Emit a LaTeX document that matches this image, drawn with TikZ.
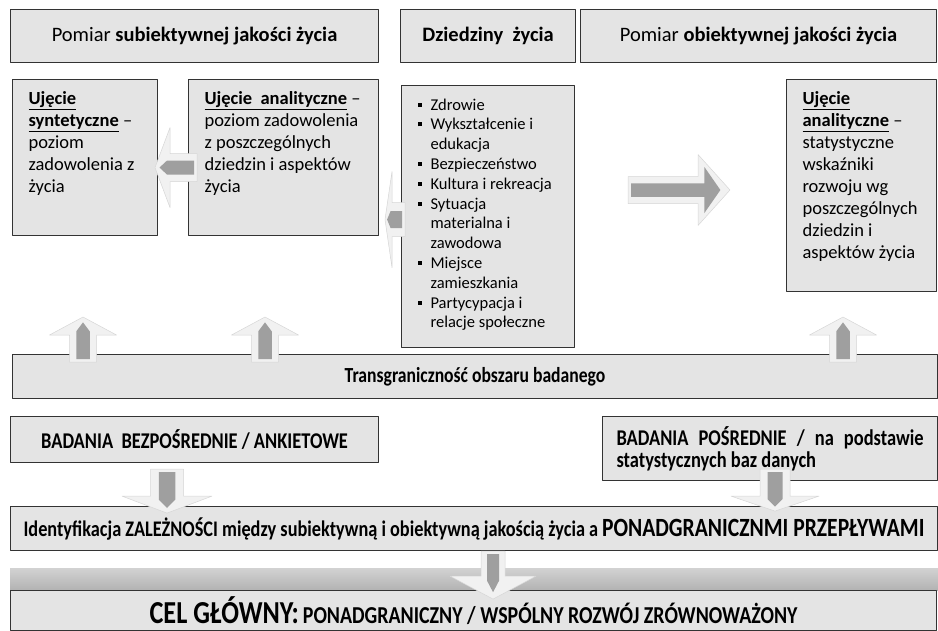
\documentclass[tikz,border=0pt]{standalone}
\usepackage{fontspec}
\setmainfont{Carlito}
\newfontfamily\narrowfont[FakeStretch=0.82]{Carlito}
\usetikzlibrary{calc}
\definecolor{boxgray}{HTML}{E4E4E4}
\definecolor{arrlight}{HTML}{F1F1F1}
\definecolor{arredge}{HTML}{D6D6D6}
\definecolor{arrdark}{HTML}{9F9F9F}
\tikzset{
  box/.style={draw=black!80, line width=1.1pt, fill=boxgray, anchor=north west, inner sep=0pt},
  hdr/.style={box, minimum height=53pt, font=\fontsize{20.5}{24}\selectfont},
  txtbox/.style={box, inner xsep=16pt, inner ysep=12pt, font=\fontsize{18.5}{22}\selectfont},
  bar/.style={box, font=\narrowfont\bfseries\fontsize{21.5}{26}\selectfont},
}
% block arrow: base, angle, length, head length, head half width, shaft half width, inner head half width
\newcommand{\blockarr}[7]{%
  \begin{scope}[shift={#1}, rotate=#2]
    \filldraw[fill=arrlight, draw=arredge, line width=0.5pt] (0,-#6) -- (#3-#4,-#6) -- (#3-#4,-#5) -- (#3,0)
      -- (#3-#4,#5) -- (#3-#4,#6) -- (0,#6) -- cycle;
    \fill[arrdark] (3,-0.5*#6) -- (#3-0.8*#4,-0.5*#6) -- (#3-0.8*#4,-#7) -- (#3-0.3*#4,0)
      -- (#3-0.8*#4,#7) -- (#3-0.8*#4,0.5*#6) -- (3,0.5*#6) -- cycle;
  \end{scope}}
\newcommand{\itm}{\makebox[13pt][l]{\raisebox{3.5pt}{\rule{4pt}{4pt}}}}
\newcommand{\cnt}{\hspace*{13pt}}
\begin{document}
\begin{tikzpicture}[x=1pt, y=-1pt, line join=round]
\useasboundingbox (0,0) rectangle (938,630);

% headers
\node[hdr, minimum width=368pt] (subj) at (10,9) {Pomiar \textbf{subiektywnej jakości życia}};
\node[hdr, minimum width=175pt] (dom) at (400,9) {\textbf{Dziedziny\ \ życia}};
\node[hdr, minimum width=356pt] (obj) at (580,9) {Pomiar \textbf{obiektywnej jakości życia}};

% boxes
\node[txtbox] (synt) at (12,79) {\parbox[t][132pt][t]{113pt}{\raggedright
  \underline{\textbf{Ujęcie}}\\ \underline{\textbf{syntetyczne}} --\\ poziom\\ zadowolenia z\\ życia}};
\node[txtbox] (anal) at (188,79) {\parbox[t][132pt][t]{158pt}{\raggedright
  \underline{\textbf{Ujęcie\ \ analityczne}} --\\ poziom zadowolenia\\ z poszczególnych\\ dziedzin i aspektów\\ życia}};
\node[txtbox, inner ysep=13pt, font=\fontsize{16.5}{19.8}\selectfont] (areas) at (401,85) {\parbox[t][236pt][t]{141pt}{\raggedright
  \itm Zdrowie\\ \itm Wykształcenie i\\ \cnt edukacja\\ \itm Bezpieczeństwo\\ \itm Kultura i rekreacja\\
  \itm Sytuacja\\ \cnt materialna i\\ \cnt zawodowa\\ \itm Miejsce\\ \cnt zamieszkania\\
  \itm Partycypacja i\\ \cnt relacje społeczne}};
\node[txtbox] (stat) at (786,79) {\parbox[t][188pt][t]{118pt}{\raggedright
  \underline{\textbf{Ujęcie}}\\ \underline{\textbf{analityczne}} --\\ statystyczne\\ wskaźniki\\ rozwoju wg\\
  poszczególnych\\ dziedzin i\\ aspektów życia}};

\node[bar, minimum width=925pt, minimum height=44pt] (trans) at (12,354) {Transgraniczność obszaru badanego};

\node[bar, minimum width=368pt, minimum height=46pt, font=\narrowfont\bfseries\fontsize{22.5}{27}\selectfont] (direct)
  at (10,416) {BADANIA\ \ BEZPOŚREDNIE / ANKIETOWE};
\node[bar, minimum width=335pt, minimum height=64pt, font=\narrowfont\bfseries\fontsize{22.5}{22}\selectfont] (indirect)
  at (602,416) {\parbox{307pt}{BADANIA\hfill POŚREDNIE\hfill /\hfill na\hfill podstawie\\ statystycznych baz danych}};

\node[bar, minimum width=927pt, minimum height=44pt] (ident) at (10,506) {{\fontsize{22.3}{26}\selectfont
  Identyfikacja ZALEŻNOŚCI między subiektywną i obiektywną jakością życia a}
  {\fontsize{26.3}{28}\selectfont PONADGRANICZNMI PRZEPŁYWAMI}};

\fill[top color=gray!35, bottom color=gray!60] (10,568) rectangle (938,590);
\node[bar, minimum width=926pt, minimum height=40pt] (goal) at (10,590) {{\fontsize{32}{34}\selectfont CEL GŁÓWNY:}
  {\fontsize{24.3}{26}\selectfont PONADGRANICZNY / WSPÓLNY ROZWÓJ ZRÓWNOWAŻONY}};

% arrows
\blockarr{($(anal.west)+(9,10)$)}{180}{42}{15}{40}{14}{7}
\blockarr{($(areas.west)+(4,3)$)}{180}{20}{7}{48}{17}{8.5}
\blockarr{(628,190)}{0}{102}{32}{35.5}{13.5}{23}
\blockarr{($(trans.north west)+(71,8)$)}{90}{45}{18}{33.5}{13.5}{6.75}
\blockarr{($(trans.north west)+(253,8)$)}{90}{45}{18}{33.5}{13.5}{6.75}
\blockarr{($(trans.north west)+(831,8)$)}{90}{45}{18}{33.5}{13.5}{6.75}
\blockarr{($(direct.south west)+(157,6)$)}{-90}{44}{17}{45}{16.5}{8.25}
\blockarr{($(indirect.south west)+(173,-12)$)}{-90}{42}{15}{44}{15}{7.5}
\blockarr{($(ident.south)+(19,0)$)}{-90}{48}{23}{43}{12}{6}
\end{tikzpicture}
\end{document}
